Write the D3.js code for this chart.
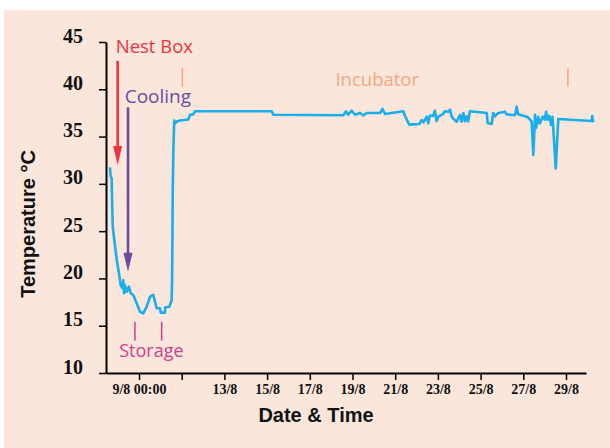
<!DOCTYPE html>
<html>
<head>
<meta charset="utf-8">
<script src="https://cdn.jsdelivr.net/npm/d3@7"></script>
<style>
  html, body { margin: 0; padding: 0; background: #ffffff; }
  svg { display: block; }
</style>
</head>
<body>
<svg id="chart" width="610" height="448"></svg>
<script>
// Day of August (decimal) and temperature (°C)
const days = [7.64, 7.67, 7.72, 7.74, 7.77, 7.88, 7.96, 8.06, 8.14, 8.22, 8.26, 8.30, 8.34, 8.42, 8.53, 8.61, 8.73, 8.89, 9.05, 9.20,
  9.36, 9.52, 9.67, 9.75, 9.83, 9.98, 10.02, 10.22, 10.23, 10.42, 10.53, 10.55, 10.56, 10.58, 10.61, 10.65, 10.66, 10.77, 10.92, 11.31,
  11.39, 11.54, 11.62, 15.22, 15.29, 18.57, 18.70, 18.80, 18.96, 19.12, 19.35, 19.51, 19.67, 20.29, 20.41, 20.52, 21.38, 21.46, 21.54, 21.66,
  22.13, 22.24, 22.32, 22.48, 22.55, 22.63, 22.78, 22.86, 22.94, 23.02, 23.25, 23.33, 23.49, 23.57, 23.65, 23.72, 23.88, 24.03, 24.11, 24.19,
  24.27, 24.35, 24.42, 24.50, 25.29, 25.33, 25.52, 25.59, 25.67, 25.83, 26.14, 26.22, 26.61, 26.69, 26.76, 27.16, 27.23, 27.39, 27.47, 27.55,
  27.60, 27.70, 27.78, 27.91, 28.00, 28.07, 28.13, 28.22, 28.30, 28.37, 28.52, 28.64, 30.20, 30.23, 30.28];
const temps = [31.75, 30.83, 30.59, 28.29, 25.47, 23.35, 21.95, 20.54, 19.30, 18.96, 19.83, 18.43, 19.30, 18.60, 19.13, 18.43, 18.25, 17.37, 16.48, 16.31,
  17.01, 18.07, 18.25, 17.54, 16.84, 16.84, 16.38, 16.38, 16.95, 17.01, 17.72, 20.00, 22.30, 29.35, 33.58, 36.70, 36.30, 36.60, 36.70, 36.80,
  37.30, 37.35, 37.67, 37.67, 37.31, 37.25, 37.67, 37.31, 37.74, 37.31, 37.49, 37.25, 37.49, 37.49, 37.92, 37.39, 37.67, 37.20, 36.80, 36.26,
  36.33, 36.75, 36.51, 37.10, 36.40, 37.22, 37.18, 37.74, 36.65, 37.10, 37.39, 37.67, 37.63, 37.84, 37.10, 36.90, 36.57, 37.28, 36.57, 37.49,
  36.61, 37.14, 36.61, 37.67, 37.49, 36.43, 36.33, 37.49, 37.14, 37.49, 37.63, 37.35, 37.25, 38.16, 37.35, 37.10, 37.00, 36.60, 33.05, 37.30,
  35.90, 37.10, 36.40, 37.10, 36.80, 37.63, 36.78, 37.18, 36.22, 37.10, 31.64, 36.86, 36.65, 37.18, 36.51];

const xTickDays = [9, 11, 13, 15, 17, 19, 21, 23, 25, 27, 29];
const xTickLabels = ["9/8 00:00", "", "13/8", "15/8", "17/8", "19/8", "21/8", "23/8", "25/8", "27/8", "29/8"];
const yTicks = [10, 15, 20, 25, 30, 35, 40, 45];

// Annotation labels
const annoLabels = ["Nest Box", "Cooling", "Incubator", "Storage"];

const toDate = d => new Date(Date.UTC(2010, 7, 1) + (d - 1) * 864e5);

const svg = d3.select("#chart");
const W = 610, H = 448;
const plot = { left: 106, right: 586, top: 42, bottom: 373 };

svg.append("rect").attr("x", 4).attr("y", 10).attr("width", W - 4).attr("height", H - 10)
  .attr("fill", "#fbe6dc");

const x = d3.scaleUtc().domain([toDate(7.4543), toDate(29.937)]).range([plot.left, plot.right]);
const y = d3.scaleLinear().domain([10, 45]).range([plot.bottom, plot.top]);

// Axes
const yAxis = d3.axisLeft(y).tickValues(yTicks).tickSize(7).tickSizeOuter(0).tickFormat(d3.format("d"));
const gy = svg.append("g").attr("transform", `translate(${plot.left},0)`).call(yAxis);
gy.select(".domain").attr("stroke", "#000").attr("stroke-width", 2);
gy.selectAll(".tick line").attr("stroke", "#000").attr("stroke-width", 1.5);
gy.selectAll(".tick text")
  .attr("x", -23).attr("dy", 0)
  .attr("font-family", "'Liberation Serif', 'Times New Roman', serif")
  .attr("font-weight", "bold").attr("font-size", 20).attr("fill", "#111");

const xAxis = d3.axisBottom(x).tickValues(xTickDays.map(toDate)).tickSize(7).tickSizeOuter(0)
  .tickFormat((d, i) => xTickLabels[i]);
const gx = svg.append("g").attr("transform", `translate(0,${plot.bottom})`).call(xAxis);
gx.select(".domain").attr("stroke", "#000").attr("stroke-width", 2);
gx.selectAll(".tick line").attr("stroke", "#000").attr("stroke-width", 1.5);
gx.selectAll(".tick text")
  .attr("y", 21).attr("dy", 0)
  .attr("font-family", "'Liberation Serif', 'Times New Roman', serif")
  .attr("font-weight", "bold").attr("font-size", 14).attr("fill", "#111");

// Axis titles
svg.append("text").attr("x", 316).attr("y", 422)
  .attr("text-anchor", "middle")
  .attr("font-family", "'Liberation Sans', Arial, sans-serif")
  .attr("font-weight", "bold").attr("font-size", 20).attr("fill", "#111")
  .text("Date & Time");
svg.append("text").attr("transform", "translate(35,224) rotate(-90)")
  .attr("text-anchor", "middle")
  .attr("font-family", "'Liberation Sans', Arial, sans-serif")
  .attr("font-weight", "bold").attr("font-size", 20).attr("fill", "#111")
  .text("Temperature °C");

// Data line
const data = days.map((d, i) => ({ t: toDate(d), v: temps[i] }));
svg.append("path").datum(data)
  .attr("fill", "none").attr("stroke", "#1aafea").attr("stroke-width", 2.6)
  .attr("stroke-linejoin", "round")
  .attr("d", d3.line().x(d => x(d.t)).y(d => y(d.v)));

// Annotations
const annoFont = "'Open Sans', 'Noto Sans', sans-serif";
const red = "#ec3340", purple = "#6a4c9e", orange = "#f6a57c", magenta = "#cf3f8a";

function arrow(day, fromT, toT, color) {
  const ax = x(toDate(day)), y0 = y(fromT), y1 = y(toT);
  svg.append("line").attr("x1", ax).attr("x2", ax).attr("y1", y0).attr("y2", y1 - 14)
    .attr("stroke", color).attr("stroke-width", 2.6);
  svg.append("path")
    .attr("d", `M${ax - 4.5},${y1 - 19} L${ax + 4.5},${y1 - 19} L${ax},${y1} Z`)
    .attr("fill", color);
}
arrow(8.0, 43.0, 32.0, red);
arrow(8.485, 38.1, 20.7, purple);

svg.append("text").attr("x", x(toDate(7.91))).attr("y", y(43.8))
  .attr("font-family", annoFont).attr("font-size", 18.5).attr("fill", red).text(annoLabels[0]);
svg.append("text").attr("x", x(toDate(8.33))).attr("y", y(38.55))
  .attr("font-family", annoFont).attr("font-size", 19).attr("fill", purple).text(annoLabels[1]);

// Incubator
[11.03, 29.09].forEach(d => {
  svg.append("line").attr("x1", x(toDate(d))).attr("x2", x(toDate(d)))
    .attr("y1", y(42.22)).attr("y2", y(40.27)).attr("stroke", orange).attr("stroke-width", 1.5);
});
svg.append("text").attr("x", x(toDate(20.16))).attr("y", y(40.35))
  .attr("text-anchor", "middle")
  .attr("font-family", annoFont).attr("font-size", 18.5).attr("fill", orange).text(annoLabels[2]);

// Storage
[8.81, 10.06].forEach(d => {
  svg.append("line").attr("x1", x(toDate(d))).attr("x2", x(toDate(d)))
    .attr("y1", y(15.42)).attr("y2", y(13.42)).attr("stroke", magenta).attr("stroke-width", 1.5);
});
svg.append("text").attr("x", x(toDate(9.58))).attr("y", y(11.72))
  .attr("text-anchor", "middle")
  .attr("font-family", annoFont).attr("font-size", 18).attr("fill", magenta).text(annoLabels[3]);
</script>
</body>
</html>
